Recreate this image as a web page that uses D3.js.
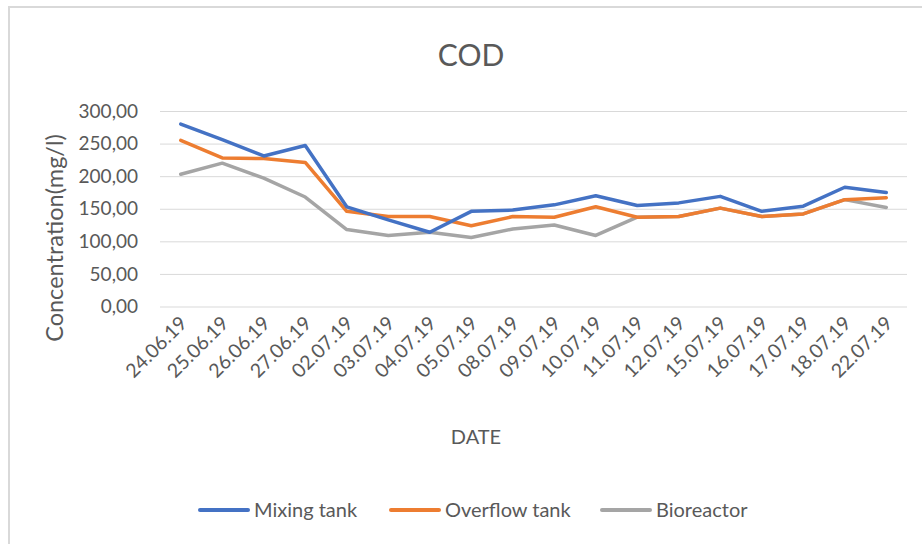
<!DOCTYPE html>
<html><head><meta charset="utf-8">
<script src="https://cdn.jsdelivr.net/npm/d3@7"></script>
<style>
html,body{margin:0;padding:0;background:#fff;}
svg text{font-family:Lato,"Open Sans",sans-serif;fill:#595959;}
</style></head>
<body>
<svg id="chart" width="922" height="544"></svg>
<script>
const dates = ["24.06.19","25.06.19","26.06.19","27.06.19","02.07.19","03.07.19","04.07.19","05.07.19","08.07.19","09.07.19","10.07.19","11.07.19","12.07.19","15.07.19","16.07.19","17.07.19","18.07.19","22.07.19"];
const mixingTank   = [280,256,231,247,153,133,114,146,148,156,170,155,159,169,146,154,183,175];
const overflowTank = [255,228,227,221,146,138,138,124,138,137,153,137,138,151,138,142,164,167];
const bioreactor   = [203,220,197,168,118,109,114,106,119,125,109,137,138,151,138,142,164,152];
const seriesNames  = ["Mixing tank","Overflow tank","Bioreactor"];
const seriesColors = ["#4472C4","#ED7D31","#A5A5A5"];
const yTicks = [0,50,100,150,200,250,300];

const svg = d3.select("#chart");
// chart frame
svg.append("rect").attr("x",9).attr("y",7).attr("width",1000).attr("height",1000)
  .attr("fill","none").attr("stroke","#d9d9d9").attr("stroke-width",2);

const x = d3.scalePoint().domain(dates).range([160,907]).padding(0.5);
const y = d3.scaleLinear().domain([0,300]).range([306.5,111]);

// gridlines
const yAxis = d3.axisLeft(y).tickValues(yTicks).tickSize(-(907-160)).tickPadding(22)
  .tickFormat(d => d3.format(".2f")(d).replace(".",","));
const gy = svg.append("g").attr("transform","translate(160,0)").call(yAxis);
gy.select(".domain").remove();
gy.selectAll(".tick line").attr("stroke","#d9d9d9").attr("stroke-width",1);
gy.selectAll(".tick text").style("font-size","19px").attr("fill","#595959");

// x axis labels
const xAxis = d3.axisBottom(x).tickSize(0).tickPadding(0);
const gx = svg.append("g").attr("transform","translate(0,306.5)").call(xAxis);
gx.select(".domain").remove();
gx.selectAll(".tick text")
  .style("font-size","19.5px").attr("fill","#595959")
  .attr("text-anchor","end").attr("dy",null).attr("y",0)
  .attr("transform","translate(7,18) rotate(-45)");

// lines
const allSeries = [mixingTank, overflowTank, bioreactor];
const line = d3.line().x((d,i)=>x(dates[i])).y(d=>y(d));
[2,1,0].forEach(k=>{
  svg.append("path").datum(allSeries[k]).attr("d",line)
    .attr("fill","none").attr("stroke",seriesColors[k]).attr("stroke-width",3.5)
    .attr("stroke-linejoin","round").attr("stroke-linecap","round");
});

// title
svg.append("text").attr("x",471).attr("y",66).attr("text-anchor","middle")
  .style("font-size","30px").text("COD");
// axis titles
svg.append("text").attr("transform","translate(63,238) rotate(-90)").attr("text-anchor","middle")
  .style("font-size","23.5px").text("Concentration(mg/l)");
svg.append("text").attr("x",476).attr("y",444).attr("text-anchor","middle")
  .style("font-size","20px").text("DATE");

// legend
const legX = [200,391,602];
seriesNames.forEach((n,i)=>{
  const g = svg.append("g").attr("transform",`translate(${legX[i]},510)`);
  g.append("line").attr("x1",0).attr("x2",48).attr("y1",0).attr("y2",0)
    .attr("stroke",seriesColors[i]).attr("stroke-width",4).attr("stroke-linecap","round");
  g.append("text").attr("x",54).attr("y",0).attr("dy","0.35em").style("font-size","20px").text(n);
});
</script>
</body></html>
